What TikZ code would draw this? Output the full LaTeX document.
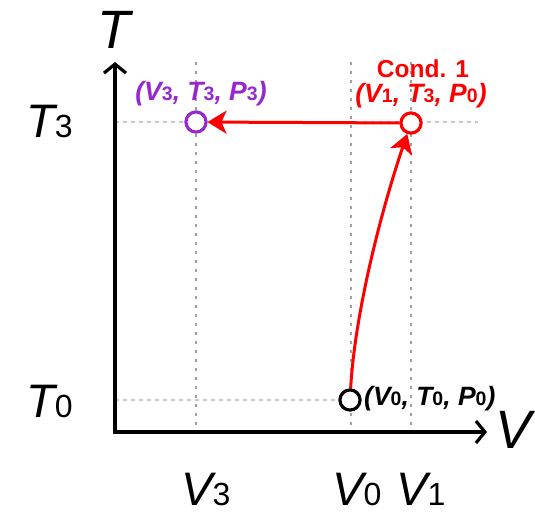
\documentclass[tikz,border=0pt]{standalone}
\usepackage{fontspec}
\setmainfont{Liberation Sans}
\usetikzlibrary{arrows.meta}
\definecolor{ptpurple}{RGB}{150,40,205}
\definecolor{ptred}{RGB}{255,0,0}
\definecolor{guideA}{RGB}{200,200,200}
\definecolor{guideB}{RGB}{160,160,160}
\newcommand{\bigsym}[2]{{\fontsize{47}{47}\selectfont\itshape #1}{\fontsize{32}{32}\selectfont #2}}
\newcommand{\axsym}[1]{{\fontsize{54}{54}\selectfont\itshape #1}}
\newcommand{\ptsym}[2]{{\itshape #1}{\upshape\fontsize{19.5}{19.5}\selectfont #2}}
\tikzset{
  hguide/.style={guideA, line width=1.5pt, dash pattern=on 4pt off 4pt},
  vguide/.style={guideB, line width=1.8pt, dash pattern=on 3pt off 6pt},
  axisline/.style={line width=3.2pt, line join=miter, {Straight Barb[length=9pt,width=22pt,line width=3.2pt]}-{Straight Barb[length=9pt,width=22pt,line width=3.2pt]}},
  redarrow/.style={ptred, line width=3pt, -{Stealth[length=19pt,width=23pt,inset=5pt]}},
  state/.style={circle, line width=3pt, fill=white, minimum size=20pt, inner sep=0pt},
  ticklab/.style={inner sep=0pt, anchor=base west},
  ptlab/.style={inner sep=0pt, font=\fontsize{26.5}{26.5}\selectfont\bfseries\itshape},
}
\begin{document}
\begin{tikzpicture}[x=1pt,y=-1pt]
\useasboundingbox (0,0) rectangle (535,515);
% guide coordinates
\coordinate (O) at (115,432);
\coordinate (ytip) at (115,62);
\coordinate (xtip) at (487,432);
\coordinate (h3l) at (115,122);
\coordinate (h3r) at (478,122);
\coordinate (h0l) at (115,400);
\coordinate (v3t) at (196,62);
\coordinate (v3b) at (196,432);
\coordinate (v0t) at (351,62);
\coordinate (v0b) at (351,432);
\coordinate (v1t) at (411,62);
\coordinate (v1b) at (411,432);
% guides
\draw[hguide] (h3l) -- (h3r);
\draw[hguide] (h0l) -- (351,400);
\draw[vguide] (v3t) -- (v3b);
\draw[vguide] (v0t) -- (v0b);
\draw[vguide] (v1t) -- (v1b);
% axes
\draw[axisline] (ytip) -- (O) -- (xtip);
% axis labels
\node[ticklab, anchor=base] (tlab) at (114,48) {\axsym{T}};
\node[ticklab] (vlab) at (495,448) {\axsym{V}};
\node[ticklab] (t3lab) at (26,137) {\bigsym{T}{3}};
\node[ticklab] (t0lab) at (26,417) {\bigsym{T}{0}};
\node[ticklab] (v3lab) at (181,505) {\bigsym{V}{3}};
\node[ticklab] (v0lab) at (332,505) {\bigsym{V}{0}};
\node[ticklab] (v1lab) at (396,505) {\bigsym{V}{1}};
% states
\node[state, draw=ptpurple] (c3) at (196,122) {};
\node[state, draw=ptred] (c1) at (411,123) {};
\node[state, draw=black] (c0) at (350,400) {};
% arrows
\draw[redarrow] (c1) -- (c3);
\draw[redarrow] (c0) .. controls (355,310) and (383,205) .. (c1);
% redraw circles on top
\node[state, draw=ptpurple] at (c3) {};
\node[state, draw=ptred] at (c1) {};
\node[state, draw=black] at (c0) {};
% point labels
\node[ptlab, text=ptpurple, anchor=base] (l3) at (201,100) {(\ptsym{V}{3}, \ptsym{T}{3}, \ptsym{P}{3})};
\node[ptlab, text=ptred, anchor=base] (lc) at (423,77) {\fontsize{24.5}{24.5}\selectfont\upshape Cond. 1};
\node[ptlab, text=ptred, anchor=base] (l1) at (421,102) {(\ptsym{V}{1}, \ptsym{T}{3}, \ptsym{P}{0})};
\node[ptlab, text=black, anchor=base west] (l0) at (364,405) {(\ptsym{V}{0}, \ptsym{T}{0}, \ptsym{P}{0})};
\end{tikzpicture}
\end{document}
